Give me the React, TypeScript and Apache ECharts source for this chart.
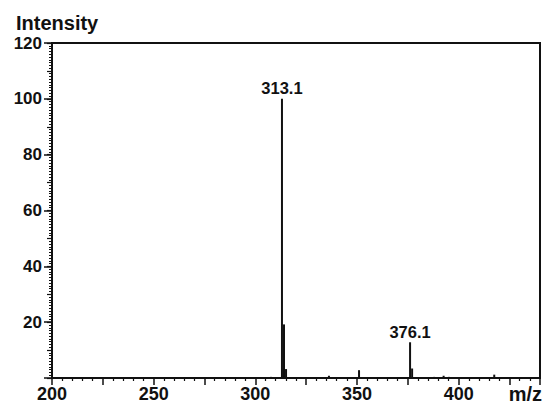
import React, { useEffect, useRef } from "react";
import * as echarts from "echarts";

const mzValues = [307.7, 313.1, 314.1, 315.1, 336.2, 351.0, 376.1, 377.1, 388.0, 392.6, 395.2, 417.5];
const intensities = [0.4, 100, 19.2, 3.2, 0.8, 2.8, 12.8, 3.4, 0.4, 0.8, 0.4, 1.2];
const peakLabels: Record<string, string> = { "313.1": "313.1", "376.1": "376.1" };
const xTitle = "m/z";
const yTitle = "Intensity";

const FONT = '"Liberation Sans", Arial, sans-serif';

export default function App() {
  const ref = useRef<HTMLDivElement>(null);
  useEffect(() => {
    if (!ref.current) return;
    const chart = echarts.init(ref.current, null, { renderer: "svg" });
    const data = mzValues.map((x, i) => {
      const key = String(x);
      const item: any = { value: [x, intensities[i]] };
      if (peakLabels[key]) {
        item.label = {
          show: true,
          position: "top",
          distance: 2,
          formatter: peakLabels[key],
          color: "#111",
          fontFamily: FONT,
          fontWeight: "bold",
          fontSize: 16.5,
        };
      }
      return item;
    });
    chart.setOption({
      animation: false,
      backgroundColor: "#fff",
      grid: {
        left: 52,
        right: 6,
        top: 43,
        bottom: 28,
        show: true,
        borderColor: "#111",
        borderWidth: 2,
        backgroundColor: "transparent",
      },
      xAxis: {
        type: "value",
        min: 200,
        max: 440,
        interval: 25,
        splitLine: { show: false },
        axisLine: { show: true, lineStyle: { color: "#111", width: 2 } },
        axisTick: { show: true, length: 7, lineStyle: { color: "#111", width: 1.5 } },
        minorTick: { show: true, splitNumber: 5, length: 3, lineStyle: { color: "#111", width: 1.2 } },
        minorSplitLine: { show: false },
        axisLabel: {
          margin: 7,
          color: "#111",
          fontFamily: FONT,
          fontWeight: "bold",
          fontSize: 18,
          showMaxLabel: false,
          formatter: (v: number) => (v % 50 === 0 ? String(v) : ""),
        },
      },
      yAxis: [
        {
          type: "value",
          min: 0,
          max: 120,
          interval: 20,
          position: "left",
          splitLine: { show: false },
          axisLine: { show: true, lineStyle: { color: "#111", width: 2 } },
          axisTick: { show: true, length: 8, lineStyle: { color: "#111", width: 1.5 } },
          axisLabel: {
            margin: 10,
            color: "#111",
            fontFamily: FONT,
            fontWeight: "bold",
            fontSize: 17,
            formatter: (v: number) => (v === 0 ? "" : String(v)),
          },
        },
        {
          type: "value",
          min: 0,
          max: 120,
          interval: 10,
          position: "left",
          offset: 0,
          splitLine: { show: false },
          axisLine: { show: true, lineStyle: { color: "#111", width: 2 } },
          axisTick: { show: true, length: 5, lineStyle: { color: "#111", width: 1.2 } },
          minorTick: { show: true, splitNumber: 10, length: 3, lineStyle: { color: "#111", width: 1 } },
          minorSplitLine: { show: false },
          axisLabel: { show: false },
        },
      ],
      series: [
        {
          type: "bar",
          xAxisIndex: 0,
          yAxisIndex: 0,
          barWidth: 2,
          itemStyle: { color: "#111" },
          data,
        },
      ],
      graphic: [
        {
          type: "text",
          left: 16,
          top: 13,
          style: {
            text: yTitle,
            fill: "#111",
            fontFamily: FONT,
            fontWeight: "bold",
            fontSize: 20,
          },
        },
        {
          type: "text",
          right: 4,
          top: 384,
          style: {
            text: xTitle,
            fill: "#111",
            fontFamily: FONT,
            fontWeight: "bold",
            fontSize: 20,
          },
        },
      ],
    });
    return () => chart.dispose();
  }, []);
  return (
    <div
      ref={ref}
      style={{ position: "fixed", left: 0, top: 0, width: 546, height: 406 }}
    />
  );
}
